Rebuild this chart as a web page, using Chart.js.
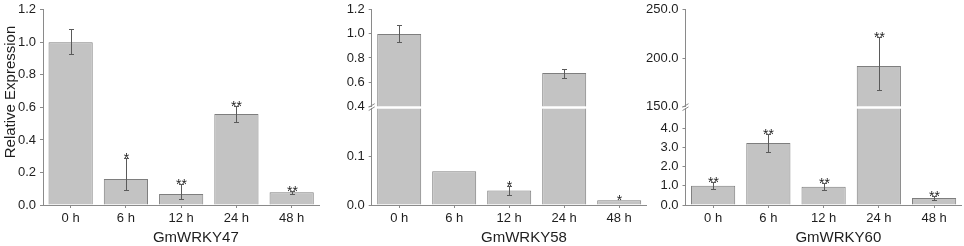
<!DOCTYPE html>
<html lang="en">
<head>
    <meta charset="UTF-8">
    <title>GmWRKY relative expression</title>
    <script src="https://cdn.jsdelivr.net/npm/chart.js"></script>
    <style>
        body { margin: 0; background: #fff; }
        .figura { position: relative; width: 964px; height: 246px; overflow: hidden; background: #fff; }
        .figura canvas { position: absolute; }
    </style>
</head>
<body>
    <div class="figura">
        <canvas id="c47" width="330" height="248" style="left:0;top:-2px;width:330px;height:248px"></canvas>
        <canvas id="c58t" width="320" height="120" style="left:330px;top:-2px;width:320px;height:120px"></canvas>
        <canvas id="c58b" width="320" height="149" style="left:330px;top:97px;width:320px;height:149px"></canvas>
        <canvas id="c60t" width="324" height="120" style="left:640px;top:-2px;width:324px;height:120px"></canvas>
        <canvas id="c60b" width="324" height="149" style="left:640px;top:97px;width:324px;height:149px"></canvas>
    </div>

<script>
// categorias (tempo apos tratamento)
const categories = ['0 h', '6 h', '12 h', '24 h', '48 h'];

// GmWRKY47
const wrky47 = [1.0, 0.16, 0.068, 0.56, 0.078];
const wrky47Hi = [1.08, 0.29, 0.13, 0.61, 0.088];
const wrky47Lo = [0.93, 0.09, 0.037, 0.51, 0.07];
const wrky47Sig = ['', '*', '**', '**', '**'];
const yTicks47 = [0, 0.2, 0.4, 0.6, 0.8, 1.0, 1.2];

// GmWRKY58 (eixo quebrado entre 0.2 e 0.4)
const wrky58 = [1.0, 0.07, 0.03, 0.675, 0.01];
const wrky58Hi = [1.07, null, 0.04, 0.71, null];
const wrky58Lo = [0.93, null, 0.02, 0.635, null];
const wrky58Sig = ['', '', '*', '', '*'];
const yTicks58Top = [0.4, 0.6, 0.8, 1.0, 1.2];
const yTicks58Bottom = [0, 0.1];
const break58 = [0.2, 0.4];

// GmWRKY60 (eixo quebrado entre 5 e 150)
const wrky60 = [1.0, 3.22, 0.95, 191.8, 0.37];
const wrky60Hi = [1.17, 3.67, 1.16, 222, 0.46];
const wrky60Lo = [0.84, 2.78, 0.78, 166.4, 0.27];
const wrky60Sig = ['**', '**', '**', '**', '**'];
const yTicks60Top = [150, 200, 250];
const yTicks60Bottom = [0, 1, 2, 3, 4];
const break60 = [5, 150];

const FONTE = "'Liberation Sans', Arial, sans-serif";
const EIXO = '#8a8a8a';
const BARRA = '#c3c3c3';
const BORDA = '#7e7e7e';
const TEXTO = '#1e1e1e';

Chart.defaults.font.family = FONTE;
Chart.defaults.color = TEXTO;

// barras de erro e asteriscos
const errorBars = {
    id: 'errorBars',
    afterDatasetsDraw(chart, args, o) {
        const ctx = chart.ctx;
        const x = chart.scales.x, y = chart.scales.y;
        const vals = chart.data.datasets[0].data;
        ctx.save();
        vals.forEach(function (v, i) {
            if (v == null || v > y.max || v < y.min) return;
            const cx = Math.round(x.getPixelForValue(i)) + 0.5;
            let topo = y.getPixelForValue(v);
            if (o.hi[i] != null) {
                const yh = Math.round(y.getPixelForValue(o.hi[i])) + 0.5;
                const yl = Math.round(y.getPixelForValue(o.lo[i])) + 0.5;
                ctx.strokeStyle = '#5a5a5a';
                ctx.lineWidth = 1;
                ctx.beginPath();
                ctx.moveTo(cx, yh); ctx.lineTo(cx, yl);
                ctx.moveTo(cx - 2.5, yh); ctx.lineTo(cx + 2.5, yh);
                ctx.moveTo(cx - 2.5, yl); ctx.lineTo(cx + 2.5, yl);
                ctx.stroke();
                topo = yh;
            }
            if (o.sig[i]) {
                ctx.fillStyle = TEXTO;
                ctx.font = '14px ' + FONTE;
                ctx.textAlign = 'center';
                ctx.textBaseline = 'alphabetic';
                ctx.fillText(o.sig[i], cx, topo + 4.5);
            }
        });
        ctx.restore();
    }
};

// titulos dos eixos e marca de quebra
const textos = {
    id: 'textos',
    afterDraw(chart, args, o) {
        const ctx = chart.ctx, a = chart.chartArea;
        ctx.save();
        ctx.fillStyle = TEXTO;
        ctx.font = '15px ' + FONTE;
        ctx.textAlign = 'center';
        ctx.textBaseline = 'middle';
        if (o.xTitle) {
            ctx.fillText(o.xTitle, (a.left + a.right) / 2 + 14.7, chart.height - 8);
        }
        if (o.yTitle) {
            ctx.save();
            ctx.translate(10.5, 94);
            ctx.rotate(-Math.PI / 2);
            ctx.fillText(o.yTitle, 0, 0);
            ctx.restore();
        }
        if (o.quebra) {
            const L = a.left, yc = a.top - 1.7;
            ctx.strokeStyle = EIXO;
            ctx.lineWidth = 1;
            ctx.beginPath();
            [-1.6, 1.6].forEach(function (k) {
                ctx.moveTo(L - 3, yc + k + 1.8);
                ctx.lineTo(L + 3, yc + k - 1.8);
            });
            ctx.stroke();
        }
        ctx.restore();
    }
};

function criarGrafico(id, cfg) {
    const data = cfg.values.map(function (v) { return v > cfg.min ? v : null; });
    return new Chart(document.getElementById(id), {
        type: 'bar',
        data: {
            labels: categories,
            datasets: [{
                data: data,
                backgroundColor: BARRA,
                borderColor: BORDA,
                borderWidth: 1,
                categoryPercentage: 1,
                barPercentage: 0.8,
                clip: 0
            }]
        },
        options: {
            responsive: false,
            animation: false,
            devicePixelRatio: 1,
            layout: { padding: cfg.padding },
            plugins: {
                legend: { display: false },
                tooltip: { enabled: false },
                errorBars: { hi: cfg.hi, lo: cfg.lo, sig: cfg.sig },
                textos: { xTitle: cfg.xTitle, yTitle: cfg.yTitle, quebra: cfg.quebra }
            },
            scales: {
                x: {
                    display: cfg.showX,
                    grid: { display: true, drawOnChartArea: false, offset: false, tickLength: 3, color: EIXO },
                    border: { color: EIXO },
                    ticks: { padding: 3, font: { size: 13 }, color: TEXTO, maxRotation: 0 },
                    afterFit: function (s) { s.height = cfg.showX ? 41 : 0; }
                },
                y: {
                    min: cfg.min,
                    max: cfg.max,
                    afterBuildTicks: function (s) { s.ticks = cfg.ticks.map(function (v) { return { value: v }; }); },
                    afterFit: function (s) { s.width = cfg.yWidth; },
                    grid: { drawOnChartArea: false, tickLength: 3, color: EIXO },
                    border: { color: EIXO },
                    ticks: { padding: 4, font: { size: 13 }, color: TEXTO, callback: function (v) { return Number(v).toFixed(1); } }
                }
            }
        },
        plugins: [errorBars, textos]
    });
}

criarGrafico('c47', {
    values: wrky47, hi: wrky47Hi, lo: wrky47Lo, sig: wrky47Sig,
    ticks: yTicks47, min: yTicks47[0], max: yTicks47[yTicks47.length - 1],
    yWidth: 43, padding: { left: 0, right: 10.7, top: 10, bottom: 0 },
    showX: true, xTitle: 'GmWRKY47', yTitle: 'Relative Expression'
});

criarGrafico('c58t', {
    values: wrky58, hi: wrky58Hi, lo: wrky58Lo, sig: wrky58Sig,
    ticks: yTicks58Top, min: break58[1], max: yTicks58Top[yTicks58Top.length - 1],
    yWidth: 41.7, padding: { left: 0, right: 3.3, top: 10, bottom: 0 },
    showX: false
});

criarGrafico('c58b', {
    values: wrky58, hi: wrky58Hi, lo: wrky58Lo, sig: wrky58Sig,
    ticks: yTicks58Bottom, min: 0, max: break58[0],
    yWidth: 41.7, padding: { left: 0, right: 3.3, top: 9, bottom: 0 },
    showX: true, xTitle: 'GmWRKY58', quebra: true
});

criarGrafico('c60t', {
    values: wrky60, hi: wrky60Hi, lo: wrky60Lo, sig: wrky60Sig,
    ticks: yTicks60Top, min: break60[1], max: yTicks60Top[yTicks60Top.length - 1],
    yWidth: 45.5, padding: { left: 0, right: 2.3, top: 10, bottom: 0 },
    showX: false
});

criarGrafico('c60b', {
    values: wrky60, hi: wrky60Hi, lo: wrky60Lo, sig: wrky60Sig,
    ticks: yTicks60Bottom, min: 0, max: break60[0],
    yWidth: 45.5, padding: { left: 0, right: 2.3, top: 8.5, bottom: 0 },
    showX: true, xTitle: 'GmWRKY60', quebra: true
});
</script>
</body>
</html>
